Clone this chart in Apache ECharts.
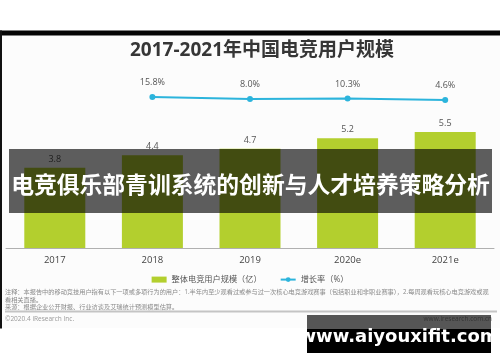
<!DOCTYPE html>
<html><head><meta charset="utf-8">
<script src="https://cdn.jsdelivr.net/npm/echarts@6/dist/echarts.min.js"></script>
<style>html,body{margin:0;padding:0;background:#fff}#c{width:500px;height:362px}</style>
</head><body><div id="c"></div>
<script>
const categories = ['2017', '2018', '2019', '2020e', '2021e'];
const userScale = [3.8, 4.4, 4.7, 5.2, 5.5];
const growthRate = ['-', 15.8, 8.0, 10.3, 4.6];
const titleText = '2017-2021年中国电竞用户规模';
const barName = '整体电竞用户规模（亿）';
const lineName = '增长率（%）';
const bannerText = '电竞俱乐部青训系统的创新与人才培养策略分析';
const note1 = '注释：本报告中的移动竞技用户指有以下一项或多项行为的用户：1.半年内至少观看过或参与过一次核心电竞游戏赛事（包括职业和非职业赛事），2.每周观看玩核心电竞游戏或观';
const note2 = '看相关直播。';
const source = '来源：根据企业公开财报、行业访谈及艾瑞统计预测模型估算。';
const copyright = '©2020.4 iResearch Inc.';
const site = 'www.iresearch.com.cn';
const watermark = 'www.aiyouxifit.com';

const FF = '"Open Sans","Noto Sans CJK SC",sans-serif';
const chart = echarts.init(document.getElementById('c'), null, {renderer: 'canvas'});
chart.setOption({
  animation: false,
  backgroundColor: '#fff',
  textStyle: {fontFamily: FF},
  title: {
    text: titleText, left: 257, top: 36, textAlign: 'center',
    textStyle: {fontSize: 19, fontWeight: 'bold', color: '#363636', fontFamily: FF}
  },
  legend: {
    top: 270.5, left: 'center', itemWidth: 15, itemHeight: 6, itemGap: 18,
    textStyle: {fontSize: 8.2, color: '#555', fontFamily: FF},
    data: [{name: barName, icon: 'rect'}, {name: lineName}]
  },
  grid: [
    {left: 6, right: 6, top: 121.4, bottom: 114},
    {left: 6, right: 6, top: 95.84, bottom: 260.8}
  ],
  xAxis: [
    {type: 'category', data: categories, gridIndex: 0,
     axisLine: {lineStyle: {color: '#b0b0b0', width: 1}}, axisTick: {show: false},
     axisLabel: {color: '#444', fontSize: 9.5, margin: 8, fontFamily: FF}},
    {type: 'category', data: categories, gridIndex: 1, show: false}
  ],
  yAxis: [
    {type: 'value', gridIndex: 0, min: 0, max: 6, show: false, splitLine: {show: false}},
    {type: 'value', gridIndex: 1, min: 0, max: 20, show: false, splitLine: {show: false}}
  ],
  series: [
    {name: barName, type: 'bar', data: userScale, xAxisIndex: 0, yAxisIndex: 0,
     barWidth: 61, itemStyle: {color: '#b3cf2e'},
     label: {show: true, position: 'top', distance: 4, color: '#555', fontSize: 9, fontFamily: FF}},
    {name: lineName, type: 'line', data: growthRate, xAxisIndex: 1, yAxisIndex: 1,
     symbol: 'circle', symbolSize: 6, lineStyle: {color: '#2cb4dc', width: 2},
     itemStyle: {color: '#2cb4dc'},
     label: {show: true, position: 'top', distance: 7, color: '#555', fontSize: 9, fontFamily: FF,
             formatter: p => Number(p.value).toFixed(1) + '%'}}
  ],
  graphic: [
    {type: 'rect', z: -10, shape: {x: 2, y: 35, width: 498, height: 293}, style: {fill: '#fcfcfc'}},
    {type: 'rect', z: 50, shape: {x: 0, y: 30.5, width: 500, height: 5}, style: {fill: '#050505'}},
    {type: 'rect', z: 50, shape: {x: 0, y: 30.5, width: 2, height: 298}, style: {fill: '#111'}},
    {type: 'text', z: 50, x: 5, y: 292, style: {text: note1, fontSize: 6.2, fill: '#8a8a8a', fontFamily: FF, verticalAlign: 'middle'}},
    {type: 'text', z: 50, x: 5, y: 300, style: {text: note2, fontSize: 6.2, fill: '#8a8a8a', fontFamily: FF, verticalAlign: 'middle'}},
    {type: 'text', z: 50, x: 5, y: 307.5, style: {text: source, fontSize: 6.2, fill: '#8a8a8a', fontFamily: FF, verticalAlign: 'middle'}},
    {type: 'line', z: 50, shape: {x1: 5, y1: 311.5, x2: 497, y2: 311.5}, style: {stroke: '#c4c4c4', lineWidth: 2}},
    {type: 'text', z: 50, x: 5, y: 319.5, style: {text: copyright, fontSize: 6.5, fill: '#999', fontFamily: FF, verticalAlign: 'middle'}},
    {type: 'text', z: 50, x: 492, y: 319.5, style: {text: site, fontSize: 6.5, fill: '#999', fontFamily: FF, align: 'right', verticalAlign: 'middle'}},
    {type: 'rect', z: 100, shape: {x: 307, y: 315, width: 184, height: 14}, style: {fill: 'rgba(0,0,0,0.66)'}},
    {type: 'rect', z: 100, shape: {x: 307, y: 329, width: 184, height: 24}, style: {fill: '#000'}},
    {type: 'text', z: 101, x: 399, y: 337, style: {text: watermark, fontSize: 18, fontWeight: 'bold', fill: '#fff', fontFamily: '"DejaVu Sans",sans-serif', align: 'center', verticalAlign: 'middle'}},
    {type: 'rect', z: 100, shape: {x: 9, y: 149, width: 483, height: 64}, style: {fill: 'rgba(0,0,0,0.63)'}},
    {type: 'text', z: 101, x: 250.5, y: 184, style: {text: bannerText, fontSize: 22.8, fontWeight: 'bold', fill: '#fff', fontFamily: '"Noto Sans CJK SC",sans-serif', align: 'center', verticalAlign: 'middle'}}
  ]
});
</script></body></html>
